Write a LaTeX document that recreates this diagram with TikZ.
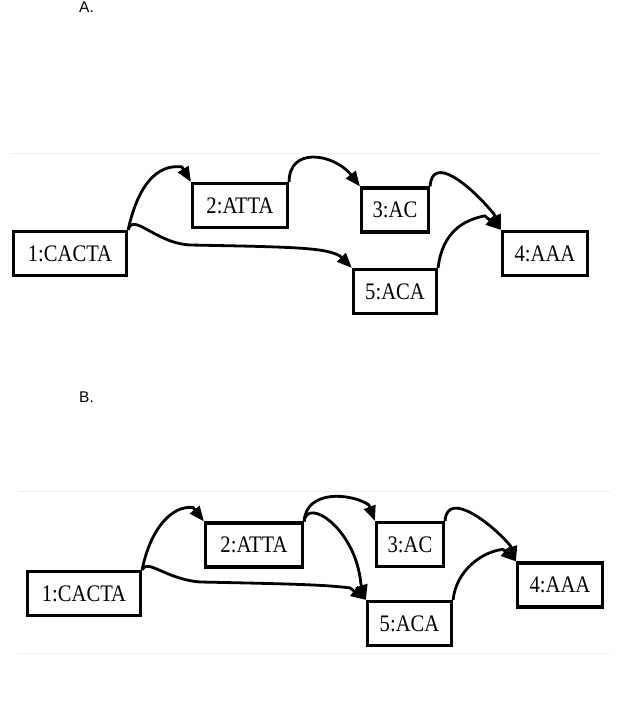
\documentclass[tikz,border=0pt]{standalone}
\usepackage{fontspec}
\newfontfamily\boxfont[FakeStretch=0.87]{Liberation Serif}
\newfontfamily\tagfont{Liberation Sans}
\usepackage{tikz}
\usetikzlibrary{arrows.meta}

\begin{document}
\begin{tikzpicture}[x=1pt, y=1pt,
    seqbox/.style={draw, line width=3.2pt, minimum height=44pt, inner sep=0pt,
      font=\boxfont\fontsize{23.7}{26}\selectfont},
    link/.style={line width=2.8pt, -{Triangle[length=15pt,width=12pt]}},
    sepline/.style={black!7, line width=1pt},
    tag/.style={anchor=base west, inner sep=0pt, font=\tagfont\fontsize{15.5}{18}\selectfont}]
    \useasboundingbox (0,0) rectangle (619,-724);

    % Panel labels
    \node[tag] (tagA) at (79,-12) {A.};
    \node[tag] (tagB) at (79,-402) {B.};

    % Faint frame lines
    \draw[sepline] (10,-153) -- (600,-153);
    \draw[sepline] (18,-491) -- (610,-491);
    \draw[sepline] (18,-653) -- (610,-653);

    % Graph A: nodes
    \node[seqbox, minimum width=113pt] (a1) at (70,-253.5) {1:CACTA};
    \node[seqbox, minimum width=95pt] (a2) at (240,-205.5) {2:ATTA};
    \node[seqbox, minimum width=67pt] (a3) at (395,-210) {3:AC};
    \node[seqbox, minimum width=85pt] (a4) at (545,-253.5) {4:AAA};
    \node[seqbox, minimum width=83pt] (a5) at (395,-291.5) {5:ACA};

    % Graph A: edges (spline to the arrow base, then straight into the corner)
    \draw[link] (a1.north east) .. controls +(10,45) and +(-25,3) .. ([shift={(-9,15)}]a2.north west) -- (a2.north west);
    \draw[link] (a1.north east) .. controls +(5,18) and +(-35,2) .. (190,-245)
      .. controls +(110,-2) and +(-15,8) .. ([shift={(-12,12)}]a5.north west) -- (a5.north west);
    \draw[link] (a2.north east) .. controls +(0,35) and +(-18,20) .. ([shift={(-10,13)}]a3.north west) -- (a3.north west);
    \draw[link] (a3.north east) .. controls +(2,32) and +(-25,30) .. ([shift={(-7,16)}]a4.north west) -- (a4.north west);
    \draw[link] (a5.north east) .. controls +(4,35) and +(-22,-4) .. ([shift={(-16,14)}]a4.north west) -- (a4.north west);

    % Graph B: nodes
    \node[seqbox, minimum width=113pt] (b1) at (84,-593.5) {1:CACTA};
    \node[seqbox, minimum width=97pt] (b2) at (254,-545) {2:ATTA};
    \node[seqbox, minimum width=67pt] (b3) at (410,-544.5) {3:AC};
    \node[seqbox, minimum width=85pt] (b4) at (560,-585) {4:AAA};
    \node[seqbox, minimum width=84pt] (b5) at (409.5,-623.5) {5:ACA};

    % Graph B: edges
    \draw[link] (b1.north east) .. controls +(8,40) and +(-22,2) .. ([shift={(-11,14)}]b2.north west) -- (b2.north west);
    \draw[link] (b1.north east) .. controls +(5,12) and +(-35,3) .. (200,-582)
      .. controls +(100,-2) and +(-25,3) .. ([shift={(-16,12)}]b5.north west) -- (b5.north west);
    \draw[link] (b2.north east) .. controls +(2,32) and +(-18,12) .. ([shift={(-6,16)}]b3.north west) -- (b3.north west);
    \draw[link] (b2.north east) .. controls +(3,25) and +(-5,55) .. ([shift={(-5,16)}]b5.north west) -- (b5.north west);
    \draw[link] (b3.north east) .. controls +(2,32) and +(-18,22) .. ([shift={(-5,15)}]b4.north west) -- (b4.north west);
    \draw[link] (b5.north east) .. controls +(3,30) and +(-20,-2) .. ([shift={(-13,12)}]b4.north west) -- (b4.north west);
  \end{tikzpicture}
\end{document}
